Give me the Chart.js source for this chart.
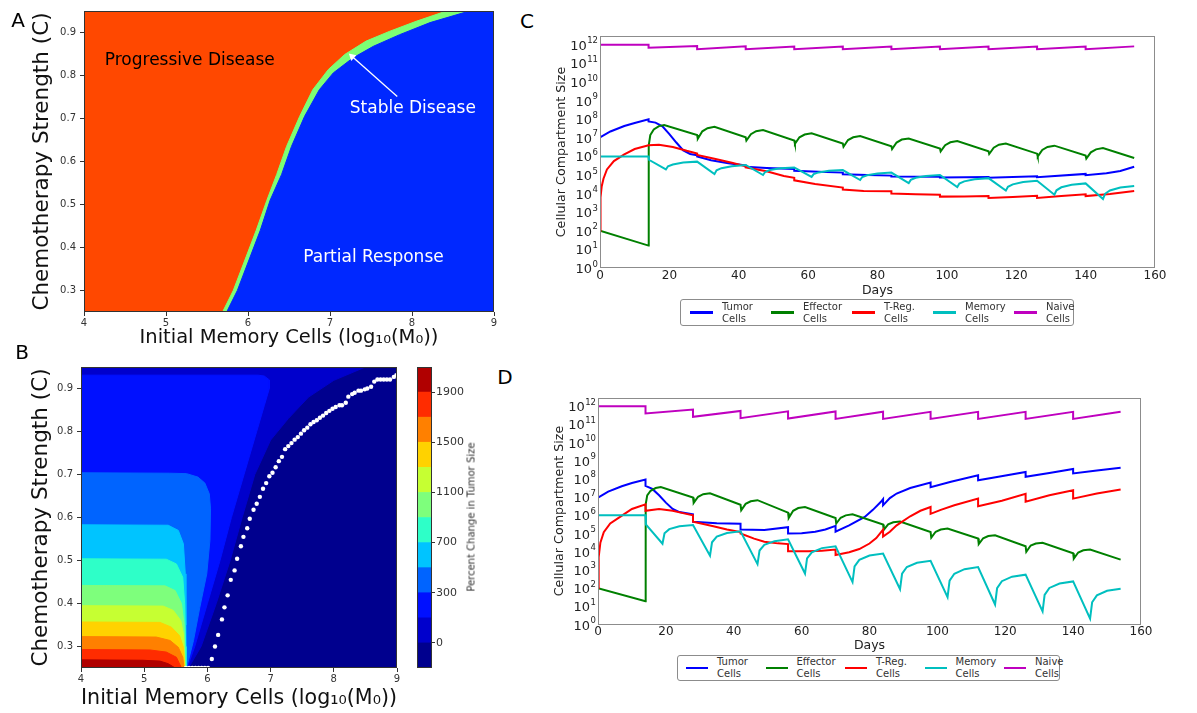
<!DOCTYPE html>
<html>
<head>
<meta charset="utf-8">
<script src="https://cdn.jsdelivr.net/npm/chart.js@4.4.1/dist/chart.umd.min.js"></script>
<style>
  html, body { margin: 0; padding: 0; background: #fff; }
  #fig { position: relative; width: 1197px; height: 713px; overflow: hidden; font-family: 'DejaVu Sans', sans-serif; }
  #fig canvas { position: absolute; }
  .tag { position: absolute; font-size: 20px; color: #000; line-height: 1; transform: translate(-50%, -50%); }
  .cb-title { position: absolute; font-size: 10px; color: #333; white-space: nowrap; transform: translate(-50%, -50%) rotate(-90deg); }
  .legend { position: absolute; border: 1px solid #8c8c8c; border-radius: 3px; box-sizing: border-box; font-size: 10px; color: #333; }
  .legend-item { position: absolute; top: 0; bottom: 0; display: flex; align-items: center; }
  .legend-item .swatch { height: 2.5px; }
  .legend-item .txt { margin-left: 9px; line-height: 12px; white-space: pre; }
</style>
</head>
<body>
<div id="fig">
  <canvas id="chartA" width="520" height="352" style="left:0;top:0"></canvas>
  <canvas id="chartB" width="410" height="373" style="left:0;top:340px"></canvas>
  <canvas id="chartCb" width="80" height="373" style="left:405px;top:340px"></canvas>
  <canvas id="chartC" width="630" height="300" style="left:540px;top:0"></canvas>
  <canvas id="chartD" width="630" height="284" style="left:540px;top:370px"></canvas>
  <div class="tag" style="left:18px;top:20px">A</div>
  <div class="tag" style="left:22px;top:352px">B</div>
  <div class="tag" style="left:527px;top:21px">C</div>
  <div class="tag" style="left:505px;top:377px">D</div>
  <div class="cb-title" style="left:471px;top:517px">Percent Change in Tumor Size</div>
  <div id="legendC" class="legend" style="left:680px;top:299px;width:394px;height:27px"></div>
  <div id="legendD" class="legend" style="left:677px;top:655px;width:383px;height:26px"></div>
</div>
<script>
/* ---------- data: panel A (response regions) ---------- */
const aTicksX = [4, 5, 6, 7, 8, 9];
const aTicksY = [0.3, 0.4, 0.5, 0.6, 0.7, 0.8, 0.9];
// progressive / stable boundary
const stableEdgeX = [5.69, 5.82, 5.98, 6.10, 6.23, 6.35, 6.47, 6.63, 6.79, 6.98, 7.18, 7.44, 7.73, 8.05, 8.42];
const stableEdgeY = [0.25, 0.30, 0.38, 0.44, 0.51, 0.57, 0.635, 0.705, 0.767, 0.814, 0.849, 0.88, 0.903, 0.926, 0.95];
// stable / partial response boundary
const partialEdgeX = [5.74, 5.87, 6.03, 6.15, 6.27, 6.41, 6.53, 6.69, 6.87, 7.04, 7.28, 7.53, 7.85, 8.22, 8.70];
const partialEdgeY = [0.25, 0.30, 0.38, 0.44, 0.51, 0.57, 0.635, 0.705, 0.767, 0.806, 0.841, 0.868, 0.895, 0.923, 0.95];
const regionNames = ['Progressive Disease', 'Stable Disease', 'Partial Response'];
const regionNameX = [5.29, 8.01, 7.53];
const regionNameY = [0.835, 0.723, 0.377];
const arrowX = [7.82, 7.27];
const arrowY = [0.751, 0.844];

/* ---------- data: panel B (percent change contours) ---------- */
const bTicksX = [4, 5, 6, 7, 8, 9];
const bTicksY = [0.3, 0.4, 0.5, 0.6, 0.7, 0.8, 0.9];
const level1 = [[4,0.25],[4,0.95],[8.5,0.95],[8.0,0.919],[7.6,0.88],[7.28,0.83],[7.0,0.78],[6.75,0.7],[6.55,0.6],[6.36,0.5],[6.14,0.4],[5.9,0.3],[5.7,0.25]];
const level2 = [[4,0.25],[4,0.931],[6.8,0.931],[6.9,0.929],[6.98,0.92],[6.98,0.9],[6.9,0.86],[6.78,0.8],[6.58,0.7],[6.38,0.6],[6.2,0.5],[6.0,0.4],[5.8,0.3],[5.68,0.25]];
const level3 = [[4,0.25],[4,0.704],[5.4,0.703],[5.67,0.702],[5.85,0.694],[5.96,0.68],[6.03,0.655],[6.05,0.62],[6.04,0.547],[5.99,0.469],[5.88,0.391],[5.78,0.314],[5.67,0.25]];
const level4 = [[4,0.25],[4,0.583],[5.38,0.582],[5.54,0.57],[5.62,0.539],[5.65,0.469],[5.66,0.35],[5.665,0.25]];
const level5 = [[4,0.25],[4,0.504],[5.35,0.503],[5.51,0.492],[5.61,0.461],[5.64,0.4],[5.655,0.3],[5.66,0.25]];
const level6 = [[4,0.25],[4,0.442],[5.33,0.441],[5.49,0.43],[5.59,0.4],[5.63,0.353],[5.65,0.25]];
const level7 = [[4,0.25],[4,0.395],[5.3,0.394],[5.46,0.384],[5.58,0.36],[5.62,0.329],[5.645,0.25]];
const level8 = [[4,0.25],[4,0.357],[5.25,0.356],[5.43,0.345],[5.56,0.325],[5.62,0.298],[5.64,0.25]];
const level9 = [[4,0.25],[4,0.323],[5.19,0.322],[5.41,0.314],[5.54,0.298],[5.61,0.275],[5.63,0.25]];
const level10 = [[4,0.25],[4,0.293],[5.09,0.292],[5.35,0.287],[5.51,0.275],[5.59,0.25]];
const level11 = [[4,0.25],[4,0.269],[4.98,0.268],[5.25,0.266],[5.38,0.26],[5.49,0.25]];
// stable-disease boundary points
const dotsX = [5.66, 5.71, 5.76, 5.81, 5.86, 5.91, 5.96, 6.01, 6.07, 6.12, 6.17, 6.23, 6.27, 6.32, 6.37, 6.43, 6.47, 6.53,
  6.57, 6.63, 6.67, 6.73, 6.78, 6.83, 6.88, 6.93, 6.98, 7.03, 7.08, 7.13, 7.18, 7.23, 7.28, 7.33, 7.38, 7.43, 7.48, 7.53,
  7.58, 7.63, 7.68, 7.73, 7.78, 7.83, 7.88, 7.93, 7.98, 8.03, 8.09, 8.13, 8.19, 8.23, 8.29, 8.33, 8.39, 8.43, 8.49, 8.53,
  8.59, 8.64, 8.69, 8.74, 8.79, 8.84, 8.89, 8.95, 8.99];
const dotsY = [0.25, 0.25, 0.25, 0.25, 0.25, 0.25, 0.25, 0.25, 0.271, 0.3, 0.327, 0.363, 0.391, 0.419, 0.455, 0.477, 0.504, 0.533,
  0.555, 0.575, 0.597, 0.618, 0.632, 0.648, 0.667, 0.68, 0.696, 0.704, 0.717, 0.731, 0.741, 0.759, 0.766, 0.773, 0.781, 0.787, 0.795, 0.803,
  0.809, 0.817, 0.822, 0.826, 0.832, 0.837, 0.843, 0.848, 0.853, 0.857, 0.861, 0.861, 0.867, 0.881, 0.887, 0.89, 0.895, 0.895, 0.898, 0.9,
  0.904, 0.916, 0.921, 0.921, 0.921, 0.921, 0.921, 0.927, 0.931];
// colorbar level labels (band boundaries, bottom to top)
const cbLevelLabels = ['', '0', '', '300', '', '700', '', '1100', '', '1500', '', '1900', ''];

/* ---------- data: panels C and D (cell counts over time) ---------- */
const seriesLabels = ['Tumor\nCells', 'Effector\nCells', 'T-Reg.\nCells', 'Memory\nCells', 'Naive\nCells'];
const dayTicks = [0, 20, 40, 60, 80, 100, 120, 140, 160];
const decadeTicks = [1, 1e1, 1e2, 1e3, 1e4, 1e5, 1e6, 1e7, 1e8, 1e9, 1e10, 1e11, 1e12];

const naiveDays = [0, 14, 14, 28, 28, 42, 42, 56, 56, 70, 70, 84, 84, 98, 98, 112, 112, 126, 126, 140, 140, 154];
const effectorDays = [0, 14, 14.05, 14.5, 15.5, 17, 18.5, 28, 28.2, 29.5, 31, 33, 42, 42.2, 43.5, 45, 47, 56, 56.2, 57.5, 59, 61,
  70, 70.2, 71.5, 73, 75, 84, 84.2, 85.5, 87, 89, 98, 98.2, 99.5, 101, 103, 112, 112.2, 113.5, 115, 117,
  126, 126.2, 127.5, 129, 131, 140, 140.2, 141.5, 143, 145, 154];
const memoryDays = [0, 14, 14.1, 19, 19.6, 21, 24, 28, 33, 33.6, 35, 38, 42, 47, 47.6, 49, 52, 56, 61, 61.6, 63, 66, 70,
  75, 75.6, 77, 80, 84, 89, 89.6, 91, 94, 98, 103, 103.6, 105, 108, 112, 117, 117.6, 119, 122, 126,
  131, 131.6, 133, 136, 140, 145, 145.6, 147, 150, 154];

// panel C
const tumorDaysC = [0, 3, 7, 10, 14, 14, 16, 18, 20, 22, 24, 26, 28, 28, 32, 37, 42, 42, 48, 56, 56, 63, 70, 70, 77, 84, 84,
  98, 98, 112, 112, 126, 126, 140, 140, 146, 150, 154];
const tumorC = [1.07e7, 2.2e7, 4.3e7, 6.3e7, 1.0e8, 7.6e7, 6.6e7, 4.2e7, 1.6e7, 5.6e6, 2.1e6, 1.35e6, 1.15e6, 1.0e6, 6.3e5, 4.3e5,
  3.3e5, 2.8e5, 2.4e5, 2.1e5, 1.7e5, 1.5e5, 1.35e5, 1.1e5, 1.0e5, 9.3e4, 8.3e4, 8.1e4, 7.4e4, 7.9e4, 7.1e4, 8.5e4, 7.6e4,
  1.15e5, 9.8e4, 1.26e5, 1.66e5, 2.8e5];
const effectorC = [100, 16, 3.98e6, 1.41e7, 2.82e7, 4.27e7, 4.9e7,
  1.41e7, 8.9e6, 2.24e7, 3.31e7, 3.98e7,
  1.07e7, 7.1e6, 1.58e7, 2.29e7, 2.63e7,
  7.1e6, 4.79e6, 1.07e7, 1.51e7, 1.74e7,
  5.0e6, 3.31e6, 7.6e6, 1.07e7, 1.26e7,
  3.55e6, 2.51e6, 5.6e6, 8.1e6, 9.3e6,
  2.63e6, 1.86e6, 4.0e6, 5.75e6, 6.76e6,
  1.91e6, 1.35e6, 2.95e6, 4.27e6, 5.0e6,
  1.41e6, 1.0e6, 2.24e6, 3.24e6, 3.8e6,
  1.12e6, 7.6e5, 1.66e6, 2.4e6, 2.82e6,
  8.3e5];
const tregDaysC = [0, 0.15, 0.5, 1, 2, 4, 7, 10, 14, 17, 21, 25, 28, 28, 33, 38, 42, 42, 48, 53, 56, 56, 62, 70, 70, 76, 84, 84,
  91, 98, 98, 105, 112, 112, 119, 126, 126, 133, 140, 140, 147, 154];
const tregC = [100, 6.3e3, 2.5e4, 6.3e4, 2e5, 5.6e5, 1.3e6, 2.5e6, 4e6, 4.3e6, 3.2e6, 2e6, 1.45e6, 1.2e6, 7.6e5, 4.6e5, 3e5, 2.6e5,
  1.6e5, 8.9e4, 7.1e4, 5.2e4, 3.3e4, 2.1e4, 1.66e4, 1.4e4, 1.35e4, 1.02e4, 9.3e3, 8.7e3, 6.9e3, 7.1e3, 7.4e3, 5.9e3, 6.6e3,
  7.6e3, 5.9e3, 7.4e3, 9.3e3, 7.4e3, 9.5e3, 1.4e4];
const memoryC = [1e6, 1e6, 6.6e5,
  2.0e5, 2.95e5, 3.7e5, 4.7e5, 5.25e5,
  1.12e5, 1.78e5, 2.34e5, 3.0e5, 3.47e5,
  1.0e5, 1.45e5, 1.86e5, 2.29e5, 2.57e5,
  7.9e4, 1.12e5, 1.38e5, 1.7e5, 1.86e5,
  5.4e4, 7.8e4, 9.8e4, 1.2e5, 1.35e5,
  3.7e4, 5.5e4, 7.1e4, 8.9e4, 1.0e5,
  2.24e4, 3.47e4, 4.57e4, 5.9e4, 6.8e4,
  1.45e4, 2.34e4, 3.16e4, 4.27e4, 4.9e4,
  8.7e3, 1.51e4, 2.19e4, 3.0e4, 3.55e4,
  5.1e3, 9.8e3, 1.48e4, 2.14e4, 2.57e4];
const naiveC = [1e12, 1e12, 7.1e11, 8.7e11, 5.9e11, 8.3e11, 5.8e11, 8.1e11, 5.8e11, 8.1e11, 5.8e11, 8.1e11, 5.8e11, 8.1e11,
  5.8e11, 8.1e11, 5.8e11, 8.1e11, 5.8e11, 8.1e11, 5.8e11, 8.3e11];

// panel D
const tumorDaysD = [0, 3, 7, 10, 14, 14, 16, 18, 20, 22, 24, 28, 28, 35, 42, 42, 49, 56, 56, 60, 64, 67, 70, 70, 74, 78.6, 81,
  83.3, 84, 84, 86, 88, 92, 98, 98, 104, 112, 112, 118, 126, 126, 133, 140, 140, 147, 154];
const tumorD = [9.3e6, 2.0e7, 3.98e7, 6.0e7, 9.3e7, 4.17e7, 2.82e7, 1.26e7, 5.0e6, 2.24e6, 1.51e6, 1.15e6, 4.47e5, 3.63e5, 3.47e5,
  1.66e5, 1.58e5, 2.24e5, 1.0e5, 1.05e5, 1.26e5, 1.66e5, 2.63e5, 1.26e5, 2.82e5, 8.1e5, 2.0e6, 5.4e6, 7.9e6, 3.55e6, 8.9e6,
  1.58e7, 3.16e7, 6.3e7, 3.55e7, 7.1e7, 1.58e8, 8.5e7, 1.32e8, 2.4e8, 1.32e8, 2.14e8, 3.55e8, 2.0e8, 2.95e8, 4.17e8];
const effectorD = [100, 19, 4e6, 1.26e7, 2.24e7, 3.16e7, 3.63e7,
  9.5e6, 4.8e6, 1.05e7, 1.45e7, 1.62e7,
  3.8e6, 1.9e6, 4.27e6, 5.9e6, 6.8e6,
  1.41e6, 7.1e5, 1.78e6, 2.51e6, 2.88e6,
  7.1e5, 3.55e5, 7.4e5, 1.0e6, 1.15e6,
  3.1e5, 1.58e5, 3.16e5, 4.17e5, 4.57e5,
  1.2e5, 6.0e4, 1.26e5, 1.66e5, 1.86e5,
  5.25e4, 2.63e4, 5.5e4, 7.24e4, 7.94e4,
  2.0e4, 1.0e4, 2.19e4, 2.82e4, 3.09e4,
  8.3e3, 4.17e3, 9.1e3, 1.2e4, 1.32e4,
  3.7e3];
const tregDaysD = [0, 0.2, 0.7, 1.7, 3.6, 6.5, 10, 14, 14, 18, 22, 25, 28, 28, 34, 38, 42, 42, 46, 49, 53, 56, 56, 62, 66, 70, 70,
  74, 77, 80, 82, 84, 84, 86, 88, 92, 95, 98, 98, 101, 105, 112, 112, 119, 126, 126, 133, 140, 140, 147, 154];
const tregD = [100, 5e3, 3.16e4, 1.2e5, 3.55e5, 8.3e5, 2.24e6, 3.98e6, 1.78e6, 2.24e6, 1.78e6, 1.32e6, 1e6, 4.47e5, 2.51e5, 1.66e5,
  1.2e5, 1e5, 5.25e4, 3.55e4, 2.88e4, 2.63e4, 1.05e4, 1.05e4, 1.12e4, 1.32e4, 6.6e3, 9.3e3, 1.41e4, 2.82e4, 5.6e4, 1.66e5,
  6.9e4, 1.26e5, 2.82e5, 8.9e5, 1.78e6, 2.88e6, 1.2e6, 2e6, 3.55e6, 8.3e6, 3.16e6, 6.3e6, 1.51e7, 5.6e6, 1.26e7, 2.4e7,
  8.3e6, 1.58e7, 2.63e7];
const memoryD = [1e6, 1e6, 3.16e5,
  2.75e4, 1.02e5, 1.74e5, 2.51e5, 2.95e5,
  6.0e3, 3.31e4, 6.8e4, 1.07e5, 1.32e5,
  2.09e3, 1.17e4, 2.4e4, 3.8e4, 4.79e4,
  631, 4.27e3, 9.3e3, 1.58e4, 2.0e4,
  214, 1.55e3, 3.55e3, 6.17e3, 7.94e3,
  87, 631, 1.45e3, 2.45e3, 3.16e3,
  31.6, 257, 617, 1.1e3, 1.45e3,
  12.6, 100, 240, 427, 550,
  5.25, 42.7, 102, 178, 234,
  2.09, 16.6, 39.8, 70.8, 91];
const naiveD = [1e12, 1e12, 4e11, 6.6e11, 2.6e11, 5.5e11, 2.2e11, 5.2e11, 2.1e11, 5.1e11, 2e11, 5e11, 2e11, 4.9e11, 2e11,
  4.9e11, 2e11, 4.9e11, 2e11, 4.9e11, 2e11, 5e11];

/* ---------- styles ---------- */
const FONT = "'DejaVu Sans', sans-serif";
Chart.defaults.font.family = FONT;
Chart.defaults.color = '#333';

const regionColors = { progressive: '#ff4800', stable: '#7dff74', partial: '#0028ff' };
const regionTextColors = ['#000', '#fff', '#fff'];
const levelColors = ['#00008e', '#0000cc', '#0010ff', '#0064ff', '#00c4ff', '#2effc8', '#7eff7c', '#c6ff32',
  '#ffd200', '#ff8000', '#ff2c00', '#b00000'];
const lineColors = ['#0000ff', '#008000', '#ff0000', '#00bfbf', '#bf00bf'];

/* ---------- helpers ---------- */
const fixedTicks = values => scale => { scale.ticks = values.map(v => ({ value: v })); };
const pts = (xs, ys) => xs.map((x, i) => ({ x, y: ys[i] }));
const pairs = list => list.map(p => ({ x: p[0], y: p[1] }));

// box around the plotting area, like the matplotlib frame
const framePlugin = {
  id: 'frame',
  afterDatasetsDraw(chart, args, opts) {
    const a = chart.chartArea, ctx = chart.ctx;
    ctx.save();
    ctx.strokeStyle = opts.color || '#333';
    ctx.lineWidth = 1;
    ctx.strokeRect(Math.round(a.left) + 0.5, Math.round(a.top) + 0.5,
      Math.round(a.right) - Math.round(a.left) - 1, Math.round(a.bottom) - Math.round(a.top) - 1);
    ctx.restore();
  }
};

// "10" with a raised exponent at each decade tick of the log axis
const powTicksPlugin = {
  id: 'powTicks',
  afterDraw(chart) {
    const s = chart.scales.y, ctx = chart.ctx;
    const right = s.right - 2;
    ctx.save();
    ctx.fillStyle = '#222';
    ctx.textAlign = 'right';
    ctx.textBaseline = 'alphabetic';
    s.ticks.forEach(t => {
      const y = s.getPixelForValue(t.value);
      const exp = String(Math.round(Math.log10(t.value)));
      ctx.font = `8.5px ${FONT}`;
      const ew = ctx.measureText(exp).width;
      ctx.fillText(exp, right, y - 1.5);
      ctx.font = `13px ${FONT}`;
      ctx.fillText('10', right - ew - 0.5, y + 5);
    });
    ctx.restore();
  }
};

// labels written inside panel A at data coordinates
const regionTextPlugin = {
  id: 'regionText',
  afterDatasetsDraw(chart, args, opts) {
    const { ctx, scales: { x, y } } = chart;
    ctx.save();
    ctx.font = opts.font;
    ctx.textAlign = 'center';
    ctx.textBaseline = 'middle';
    opts.names.forEach((t, i) => {
      ctx.fillStyle = opts.colors[i];
      ctx.fillText(t, x.getPixelForValue(opts.xs[i]), y.getPixelForValue(opts.ys[i]));
    });
    ctx.restore();
  }
};

function area(data, color, order) {
  return { data, fill: 'shape', backgroundColor: color, borderColor: color, borderWidth: 1, pointRadius: 0, tension: 0, order };
}

function mapAxes(ticksX, ticksY, cfg) {
  return {
    x: {
      type: 'linear', min: 4, max: 9,
      afterBuildTicks: fixedTicks(ticksX),
      afterFit: s => { s.height = cfg.xh; },
      grid: { drawOnChartArea: false, drawTicks: true, tickLength: 4, color: '#333' },
      border: { display: false },
      ticks: { font: { size: 10 }, color: '#333', padding: cfg.xtp, maxRotation: 0, autoSkip: false },
      title: { display: true, text: 'Initial Memory Cells (log₁₀(M₀))', color: '#111',
        font: { size: cfg.xts }, padding: { top: 0, bottom: cfg.xpb } }
    },
    y: {
      type: 'linear', min: 0.25, max: 0.95,
      afterBuildTicks: fixedTicks(ticksY),
      afterFit: s => { s.width = cfg.yw; },
      grid: { drawOnChartArea: false, drawTicks: true, tickLength: 4, color: '#333' },
      border: { display: false },
      ticks: { font: { size: 10 }, color: '#333', padding: 4, autoSkip: false, callback: v => v.toFixed(1) },
      title: { display: true, text: 'Chemotherapy Strength (C)', color: '#111',
        font: { size: 21.5 }, padding: { top: cfg.ypt, bottom: 0 } }
    }
  };
}

const baseOpts = {
  responsive: false, animation: false, devicePixelRatio: 1,
  events: []
};

/* ---------- panel A ---------- */
new Chart(document.getElementById('chartA'), {
  type: 'line',
  data: {
    datasets: [
      area(pairs([[4, 0.25], [4, 0.95], [9, 0.95], [9, 0.25]]), regionColors.progressive, 4),
      area([{ x: 9, y: 0.25 }, ...pts(stableEdgeX, stableEdgeY), { x: 9, y: 0.95 }], regionColors.stable, 3),
      area([{ x: 9, y: 0.25 }, ...pts(partialEdgeX, partialEdgeY), { x: 9, y: 0.95 }], regionColors.partial, 2),
      {
        data: pts(arrowX, arrowY), borderColor: '#fff', borderWidth: 1.3, fill: false, order: 1,
        pointRadius: [0, 4.5], pointStyle: 'triangle', pointRotation: -48,
        pointBackgroundColor: '#fff', pointBorderColor: '#fff', pointBorderWidth: 0
      }
    ]
  },
  options: {
    ...baseOpts,
    layout: { padding: { left: 0, top: 11, right: 26, bottom: 0 } },
    plugins: {
      legend: { display: false }, tooltip: { enabled: false },
      frame: { color: '#333' },
      regionText: { font: `17px ${FONT}`, names: regionNames, xs: regionNameX, ys: regionNameY, colors: regionTextColors }
    },
    scales: mapAxes(aTicksX, aTicksY, { xh: 40, xtp: 1, xts: 19.5, xpb: 2.3, yw: 84, ypt: 30 })
  },
  plugins: [framePlugin, regionTextPlugin]
});

/* ---------- panel B ---------- */
const levelShapes = [level1, level2, level3, level4, level5, level6, level7, level8, level9, level10, level11];
const bDatasets = [area(pairs([[4, 0.25], [4, 0.95], [9, 0.95], [9, 0.25]]), levelColors[0], 20)];
levelShapes.forEach((shape, i) => bDatasets.push(area(pairs(shape), levelColors[i + 1], 19 - i)));
bDatasets.push({
  data: pts(dotsX, dotsY), showLine: false, order: 1, clip: 0,
  pointRadius: 2.2, pointBackgroundColor: '#fff', pointBorderWidth: 0
});

new Chart(document.getElementById('chartB'), {
  type: 'line',
  data: { datasets: bDatasets },
  options: {
    ...baseOpts,
    layout: { padding: { left: 0, top: 27, right: 13, bottom: 0 } },
    plugins: { legend: { display: false }, tooltip: { enabled: false }, frame: { color: '#333' } },
    scales: mapAxes(bTicksX, bTicksY, { xh: 45, xtp: 1.3, xts: 20.8, xpb: 2.2, yw: 81, ypt: 28.8 })
  },
  plugins: [framePlugin]
});

/* ---------- colorbar ---------- */
new Chart(document.getElementById('chartCb'), {
  type: 'bar',
  data: {
    labels: [''],
    datasets: levelColors.map(c => ({ data: [1], backgroundColor: c, borderWidth: 0, barPercentage: 1, categoryPercentage: 1 }))
  },
  options: {
    ...baseOpts,
    layout: { padding: { left: 12, top: 27, right: 0, bottom: 45 } },
    plugins: { legend: { display: false }, tooltip: { enabled: false }, frame: { color: '#333' } },
    scales: {
      x: { stacked: true, display: false },
      y: {
        stacked: true, position: 'right', min: 0, max: levelColors.length,
        afterBuildTicks: s => { s.ticks = cbLevelLabels.map((l, i) => ({ value: i })).filter(t => cbLevelLabels[t.value] !== ''); },
        afterFit: s => { s.width = 53; },
        grid: { drawOnChartArea: false, drawTicks: true, tickLength: 3, color: '#333' },
        border: { display: false },
        ticks: { font: { size: 11 }, color: '#333', padding: 1, autoSkip: false, callback: v => cbLevelLabels[v] }
      }
    }
  },
  plugins: [framePlugin]
});

/* ---------- panels C and D ---------- */
function line(i, days, values) {
  return {
    label: seriesLabels[i], data: pts(days, values),
    borderColor: lineColors[i], backgroundColor: lineColors[i],
    borderWidth: 2, pointRadius: 0, tension: 0, fill: false, order: 5 - i
  };
}

function timeChart(id, datasets, cfg) {
  return new Chart(document.getElementById(id), {
    type: 'line',
    data: { datasets },
    options: {
      ...baseOpts,
      layout: { padding: { left: 0, top: cfg.top, right: cfg.right, bottom: 0 } },
      plugins: { legend: { display: false }, tooltip: { enabled: false }, frame: { color: '#8c8c8c' } },
      scales: {
        x: {
          type: 'linear', min: 0, max: 160,
          afterBuildTicks: fixedTicks(dayTicks),
          afterFit: s => { s.height = cfg.xh; },
          grid: { display: false, drawTicks: false },
          border: { display: false },
          ticks: { font: { size: 12 }, color: '#222', padding: cfg.xtp, maxRotation: 0, autoSkip: false },
          title: { display: true, text: 'Days', color: '#222', font: { size: 12.5 }, padding: { top: 0, bottom: cfg.xpb } }
        },
        y: {
          type: 'logarithmic', min: 1, max: 3e12,
          afterBuildTicks: fixedTicks(decadeTicks),
          afterFit: s => { s.width = cfg.yw; },
          grid: { display: false, drawTicks: false },
          border: { display: false },
          ticks: { display: false },
          title: { display: true, text: 'Cellular Compartment Size', color: '#222', font: { size: 12.7 }, padding: { top: cfg.ypt, bottom: 0 } }
        }
      }
    },
    plugins: [framePlugin, powTicksPlugin]
  });
}

const chartC = timeChart('chartC', [
  line(0, tumorDaysC, tumorC),
  line(1, effectorDays, effectorC),
  line(2, tregDaysC, tregC),
  line(3, memoryDays, memoryC),
  line(4, naiveDays, naiveC)
], { top: 36, right: 15, xh: 32, xtp: 0.8, xpb: 1.8, yw: 60, ypt: 14.1 });

const chartD = timeChart('chartD', [
  line(0, tumorDaysD, tumorD),
  line(1, effectorDays, effectorD),
  line(2, tregDaysD, tregD),
  line(3, memoryDays, memoryD),
  line(4, naiveDays, naiveD)
], { top: 27.5, right: 29, xh: 29.5, xtp: 0, xpb: 0.8, yw: 58, ypt: 11.9 });

// legend boxes under C and D, built from the chart datasets
function buildLegend(id, chart, pad, pitch, swatch) {
  const el = document.getElementById(id);
  chart.data.datasets.forEach((ds, i) => {
    const item = document.createElement('div');
    item.className = 'legend-item';
    item.style.left = (pad + i * pitch) + 'px';
    const sw = document.createElement('span');
    sw.className = 'swatch';
    sw.style.width = swatch + 'px';
    sw.style.background = ds.borderColor;
    const tx = document.createElement('span');
    tx.className = 'txt';
    tx.textContent = ds.label;
    item.appendChild(sw);
    item.appendChild(tx);
    el.appendChild(item);
  });
}
buildLegend('legendC', chartC, 9, 81, 23);
buildLegend('legendD', chartD, 8, 79.5, 22);
</script>
</body>
</html>
